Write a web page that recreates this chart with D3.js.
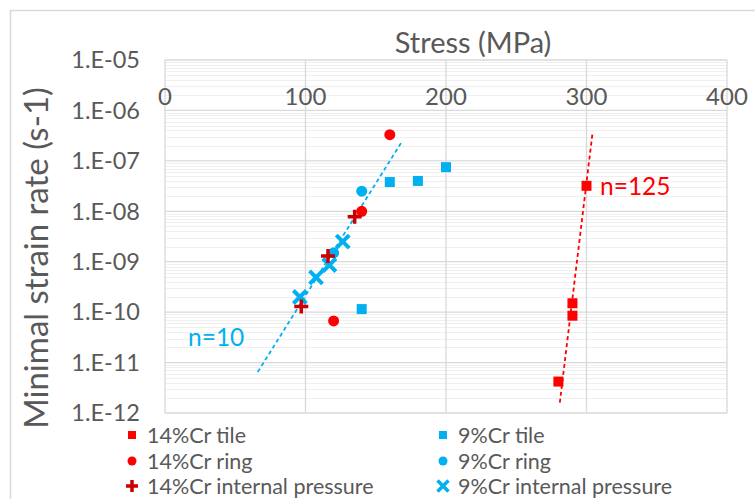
<!DOCTYPE html>
<html><head><meta charset="utf-8">
<script src="https://cdn.jsdelivr.net/npm/d3@7/dist/d3.min.js"></script>
<style>html,body{margin:0;padding:0;background:#fff;}svg{display:block;font-family:Lato,"Open Sans",sans-serif;}</style>
</head><body>
<svg id="c" width="755" height="499"></svg>
<script>
// ---- data ----
const xTicks = [0, 100, 200, 300, 400];
const yTicks = [1e-5, 1e-6, 1e-7, 1e-8, 1e-9, 1e-10, 1e-11, 1e-12];
const yTickLabels = ["1.E-05","1.E-06","1.E-07","1.E-08","1.E-09","1.E-10","1.E-11","1.E-12"];

const tile14Stress = [280, 290, 290, 300];
const tile14Rate   = [4.2e-12, 8.5e-11, 1.5e-10, 3.2e-8];
const ring14Stress = [160, 140, 120];
const ring14Rate   = [3.3e-7, 1.0e-8, 6.7e-11];
const ip14Stress   = [97, 116, 135];
const ip14Rate     = [1.3e-10, 1.3e-9, 7.8e-9];
const tile9Stress  = [140, 160, 180, 200];
const tile9Rate    = [1.15e-10, 3.8e-8, 4.0e-8, 7.5e-8];
const ring9Stress  = [120, 140];
const ring9Rate    = [1.5e-9, 2.5e-8];
const ip9Stress    = [96, 107.5, 117, 126.5];
const ip9Rate      = [2.0e-10, 4.9e-10, 8.6e-10, 2.5e-9];

const trend9Stress  = [66, 169];
const trend9Rate    = [6.5e-12, 2.5e-7];
const trend14Stress = [281, 304.4];
const trend14Rate   = [1.6e-12, 3.8e-7];

const legendNames = ["14%Cr tile","14%Cr ring","14%Cr internal pressure","9%Cr tile","9%Cr ring","9%Cr internal pressure"];

// ---- layout ----
const RED = "#ff0000", DRED = "#cc0000", BLUE = "#00b0f0", TXT = "#595959";
const L = 165, R = 727, T = 60, B = 413;
const svg = d3.select("#c");
const x = d3.scaleLinear().domain([0, 400]).range([L, R]);
const y = d3.scaleLog().domain([1e-12, 1e-5]).range([B, T]);

// chart border
svg.append("rect").attr("x", 10.5).attr("y", 10.5).attr("width", 760).attr("height", 520)
  .attr("fill", "none").attr("stroke", "#d9d9d9").attr("stroke-width", 1.5);

// minor gridlines
const minor = [];
for (let e = -12; e < -5; e++) for (let m = 2; m <= 9; m++) minor.push(m * Math.pow(10, e));
svg.append("g").selectAll("line").data(minor).join("line")
  .attr("x1", L).attr("x2", R).attr("y1", d => Math.round(y(d)) + 0.5).attr("y2", d => Math.round(y(d)) + 0.5)
  .attr("stroke", "#efefef").attr("stroke-width", 1);
// major gridlines
svg.append("g").selectAll("line").data(yTicks).join("line")
  .attr("x1", L).attr("x2", R).attr("y1", d => y(d)).attr("y2", d => y(d))
  .attr("stroke", "#d9d9d9").attr("stroke-width", 1.3);
svg.append("g").selectAll("line").data(xTicks).join("line")
  .attr("x1", d => x(d)).attr("x2", d => x(d)).attr("y1", T).attr("y2", B)
  .attr("stroke", "#d9d9d9").attr("stroke-width", 1.3);

// tick labels
svg.append("g").selectAll("text").data(yTicks).join("text")
  .attr("x", 140).attr("y", d => y(d)).attr("dy", "0.35em").attr("text-anchor", "end")
  .attr("font-size", 23.5).attr("fill", TXT).text((d, i) => yTickLabels[i]);
svg.append("g").selectAll("text").data(xTicks).join("text")
  .attr("x", d => x(d)).attr("y", 97).attr("dy", "0.35em").attr("text-anchor", "middle")
  .attr("font-size", 24).attr("fill", TXT).text(d => d);

// axis titles
svg.append("text").attr("x", 473).attr("y", 43).attr("dy", "0.35em").attr("text-anchor", "middle")
  .attr("font-size", 29).attr("fill", TXT).text("Stress (MPa)");
svg.append("text").attr("transform", "translate(36,258) rotate(-90)").attr("dy", "0.35em")
  .attr("text-anchor", "middle").attr("font-size", 33).attr("fill", TXT).text("Minimal strain rate (s-1)");

// trend lines
const line = d3.line().x(d => x(d[0])).y(d => y(d[1]));
svg.append("path").attr("d", line(d3.zip(trend9Stress, trend9Rate)))
  .attr("stroke", BLUE).attr("stroke-width", 1.8).attr("stroke-dasharray", "4,3").attr("fill", "none");
svg.append("path").attr("d", line(d3.zip(trend14Stress, trend14Rate)))
  .attr("stroke", RED).attr("stroke-width", 1.8).attr("stroke-dasharray", "4,3").attr("fill", "none");

// marker drawers
function square(g, cx, cy, c, s) { g.append("rect").attr("x", cx - s/2).attr("y", cy - s/2).attr("width", s).attr("height", s).attr("fill", c); }
function circle(g, cx, cy, c, r) { g.append("circle").attr("cx", cx).attr("cy", cy).attr("r", r).attr("fill", c); }
function plus(g, cx, cy, c, s, w) {
  g.append("path").attr("d", `M${cx - s},${cy}L${cx + s},${cy}M${cx},${cy - s}L${cx},${cy + s}`)
    .attr("stroke", c).attr("stroke-width", w).attr("fill", "none");
}
function cross(g, cx, cy, c, s, w) {
  g.append("path").attr("d", `M${cx - s},${cy - s}L${cx + s},${cy + s}M${cx - s},${cy + s}L${cx + s},${cy - s}`)
    .attr("stroke", c).attr("stroke-width", w).attr("fill", "none");
}

const pts = svg.append("g");
d3.zip(tile9Stress, tile9Rate).forEach(d => square(pts, x(d[0]), y(d[1]), BLUE, 10));
d3.zip(ring9Stress, ring9Rate).forEach(d => circle(pts, x(d[0]), y(d[1]), BLUE, 5.5));
d3.zip(tile14Stress, tile14Rate).forEach(d => square(pts, x(d[0]), y(d[1]), RED, 10));
d3.zip(ring14Stress, ring14Rate).forEach(d => circle(pts, x(d[0]), y(d[1]), RED, 5.5));
d3.zip(ip9Stress, ip9Rate).forEach(d => cross(pts, x(d[0]), y(d[1]), BLUE, 6.5, 4));
d3.zip(ip14Stress, ip14Rate).forEach(d => plus(pts, x(d[0]), y(d[1]), DRED, 7, 3.5));

// trend labels
svg.append("text").attr("x", 600).attr("y", 186).attr("dy", "0.35em").attr("font-size", 24.5).attr("fill", RED).text("n=125");
svg.append("text").attr("x", 188).attr("y", 337).attr("dy", "0.35em").attr("font-size", 24.5).attr("fill", BLUE).text("n=10");

// legend
const leg = svg.append("g");
const rowsY = [435, 461, 486];
const colX = [132, 443];
const drawers = [
  (cx, cy) => square(leg, cx, cy, RED, 8),
  (cx, cy) => circle(leg, cx, cy, RED, 4.5),
  (cx, cy) => plus(leg, cx, cy, DRED, 6, 3.5),
  (cx, cy) => square(leg, cx, cy, BLUE, 8),
  (cx, cy) => circle(leg, cx, cy, BLUE, 4.5),
  (cx, cy) => cross(leg, cx, cy, BLUE, 5.5, 3.5)
];
legendNames.forEach((name, i) => {
  const cx = colX[Math.floor(i / 3)], cy = rowsY[i % 3];
  drawers[i](cx, cy);
  leg.append("text").attr("x", cx + 15).attr("y", cy).attr("dy", "0.35em")
    .attr("font-size", 21.5).attr("fill", TXT).text(name);
});
</script>
</body></html>
